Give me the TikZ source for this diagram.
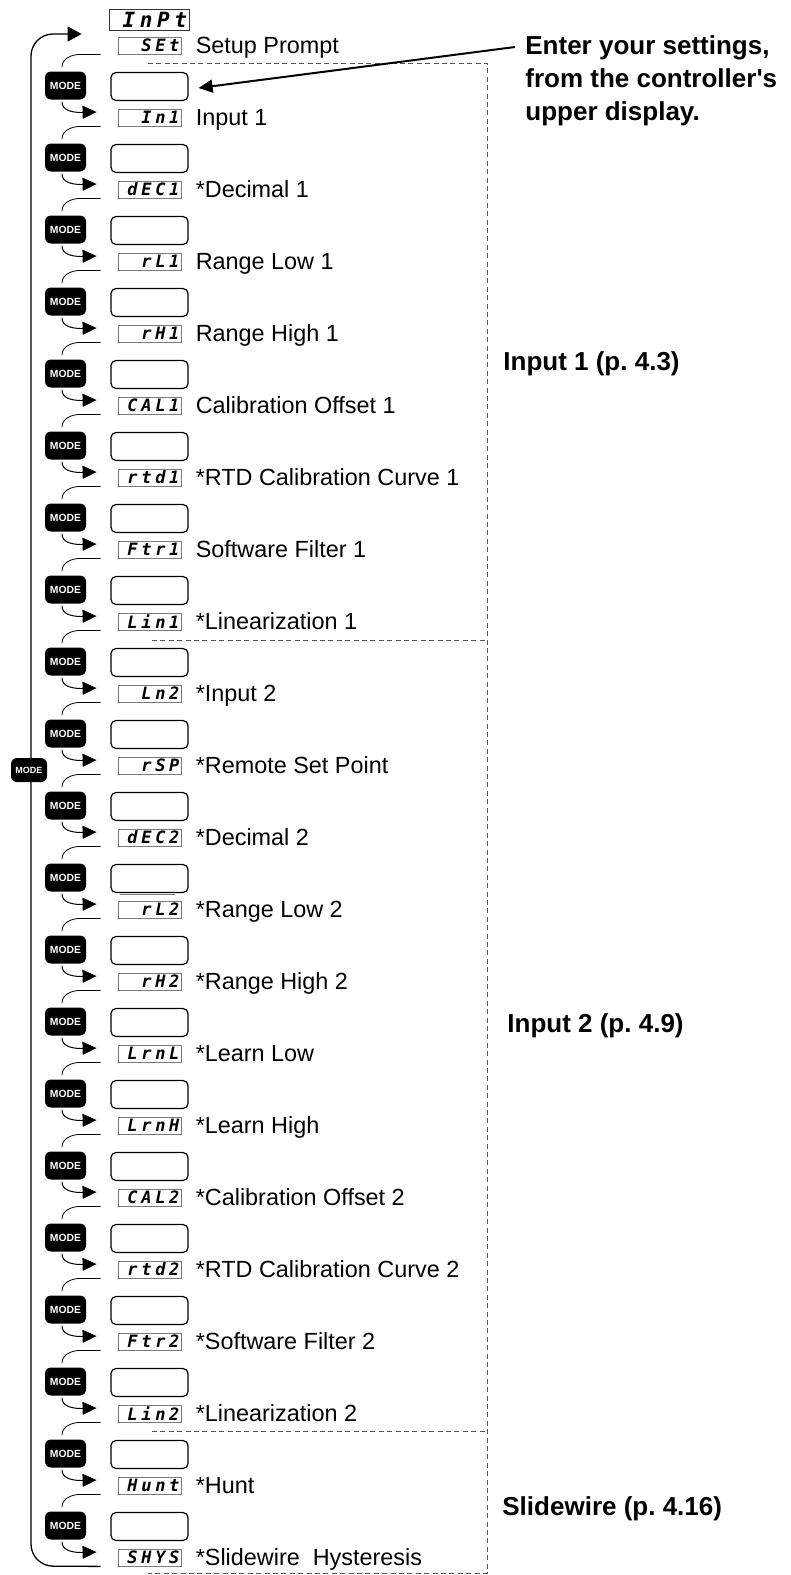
\documentclass[tikz,border=0pt]{standalone}
\usepackage{fontspec}
\setmainfont{Liberation Sans}[Ligatures=TeXOff]
\newfontfamily\segfont{DejaVu Sans Mono}[LetterSpace=22]
\usetikzlibrary{arrows.meta,positioning}
\definecolor{frame}{HTML}{7A7A7A}
\definecolor{dashgray}{HTML}{555555}
\frenchspacing

\begin{document}
\begin{tikzpicture}[x=0.5pt,y=0.5pt,
  modebtn/.style={fill=black,rounded corners=3pt,minimum width=20.5pt,minimum height=14pt,inner sep=0pt,text=white,font=\bfseries\fontsize{5.2}{6}\selectfont},
  blank/.style={draw,line width=0.6pt,rounded corners=2.5pt,minimum width=38.5pt,minimum height=14pt,inner sep=0pt},
  code/.style={draw=frame,line width=0.4pt,fill=white,text width=30pt,inner xsep=0.75pt,inner ysep=0pt,minimum height=8.5pt,align=right,font=\segfont\bfseries\itshape\fontsize{8.5}{9}\selectfont},
  lbl/.style={anchor=base west,inner sep=0pt,font=\fontsize{11.7}{14}\selectfont},
  grp/.style={anchor=base west,inner sep=0pt,font=\bfseries\fontsize{13}{16.5}\selectfont},
  arrow/.style={-{Triangle[length=7pt,width=6.5pt]},line width=0.5pt},
  link/.style={line width=0.4pt},
  dashln/.style={draw=dashgray,line width=0.5pt,dash pattern=on 2.5pt off 1.7pt}
]
\useasboundingbox (0,0) rectangle (791,-1575);

\node[draw=black!80,line width=0.5pt,minimum width=40pt,minimum height=10.5pt,inner xsep=1pt,inner ysep=0pt,text width=38pt,align=right,font=\segfont\bfseries\itshape\fontsize{10.5}{11}\selectfont] (inpt) at (149,-19.5) {InPt};
\node[code] (c0) at (149.5,-45.5) {SEt};
\node[lbl] (l0) at ([xshift=7pt,yshift=-4.2pt]c0.east) {Setup Prompt};

\foreach \cd/\lb [count=\i] in {In1/Input 1,dEC1/*Decimal 1,rL1/Range Low 1,rH1/Range High 1,
  CAL1/Calibration Offset 1,rtd1/*RTD Calibration Curve 1,Ftr1/Software Filter 1,Lin1/*Linearization 1,
  Ln2/*Input 2,rSP/*Remote Set Point,dEC2/*Decimal 2,rL2/*Range Low 2,rH2/*Range High 2,
  LrnL/*Learn Low,LrnH/*Learn High,CAL2/*Calibration Offset 2,rtd2/*RTD Calibration Curve 2,
  Ftr2/*Software Filter 2,Lin2/*Linearization 2,Hunt/*Hunt,SHYS/*Slidewire\ \ Hysteresis}{
  \pgfmathsetmacro\y{-45.5-72*\i}
  \pgfmathtruncatemacro\j{\i-1}
  \node[blank] (b\i) at (149.5,\y+31) {};
  \node[modebtn] (m\i) at (65.5,\y+32) {MODE};
  \node[code] (c\i) at (149.5,\y) {\cd};
  \node[lbl] (l\i) at ([xshift=7pt,yshift=-4.2pt]c\i.east) {\lb};
  \draw[link] ([xshift=-8.5pt]c\j.south west) -- ++(-20,0) to[out=180,in=90] ([xshift=-1.75pt,yshift=2pt]m\i.north);
  \draw[arrow] ([xshift=-1.75pt,yshift=-1pt]m\i.south) to[out=-90,in=180] ++(18,-10.5) -- ([xshift=-10.5pt,yshift=2.75pt]c\i.west);
}

\draw[line width=0.65pt,rounded corners=11pt,-{Triangle[length=7pt,width=7.5pt]}] ([xshift=-8.5pt]c21.south west) -- (31,-1566) -- (31,-34) -- ([xshift=-18pt,yshift=5.75pt]c0.west);
\node[modebtn,minimum width=18pt,minimum height=12pt,font=\bfseries\fontsize{4.5}{5}\selectfont] (mloop) at (29,-770) {MODE};

\draw[dashln] (148,-63) -- (487,-63) -- (487,-1573) -- (148,-1573);
\draw[dashln] (152,-640) -- (487,-640);
\draw[dashln] (152,-1431) -- (487,-1431);
\draw[frame,line width=0.6pt] ([xshift=1pt,yshift=3pt]c12.north west) -- ([xshift=-3pt,yshift=3pt]c12.north east);

\node[grp,anchor=north west,align=left] (note) at (525,-35) {Enter your settings,\\from the controller's\\upper display.};
\draw[arrow,line width=1pt] ([xshift=-5pt,yshift=-6pt]note.north west) -- ([xshift=5pt,yshift=-0.75pt]b1.east);

\node[grp] (grp1) at (503,-370) {Input 1 (p. 4.3)};
\node[grp] (grp2) at (507,-1032) {Input 2 (p. 4.9)};
\node[grp] (grp3) at (502,-1515) {Slidewire (p. 4.16)};
\end{tikzpicture}
\end{document}
